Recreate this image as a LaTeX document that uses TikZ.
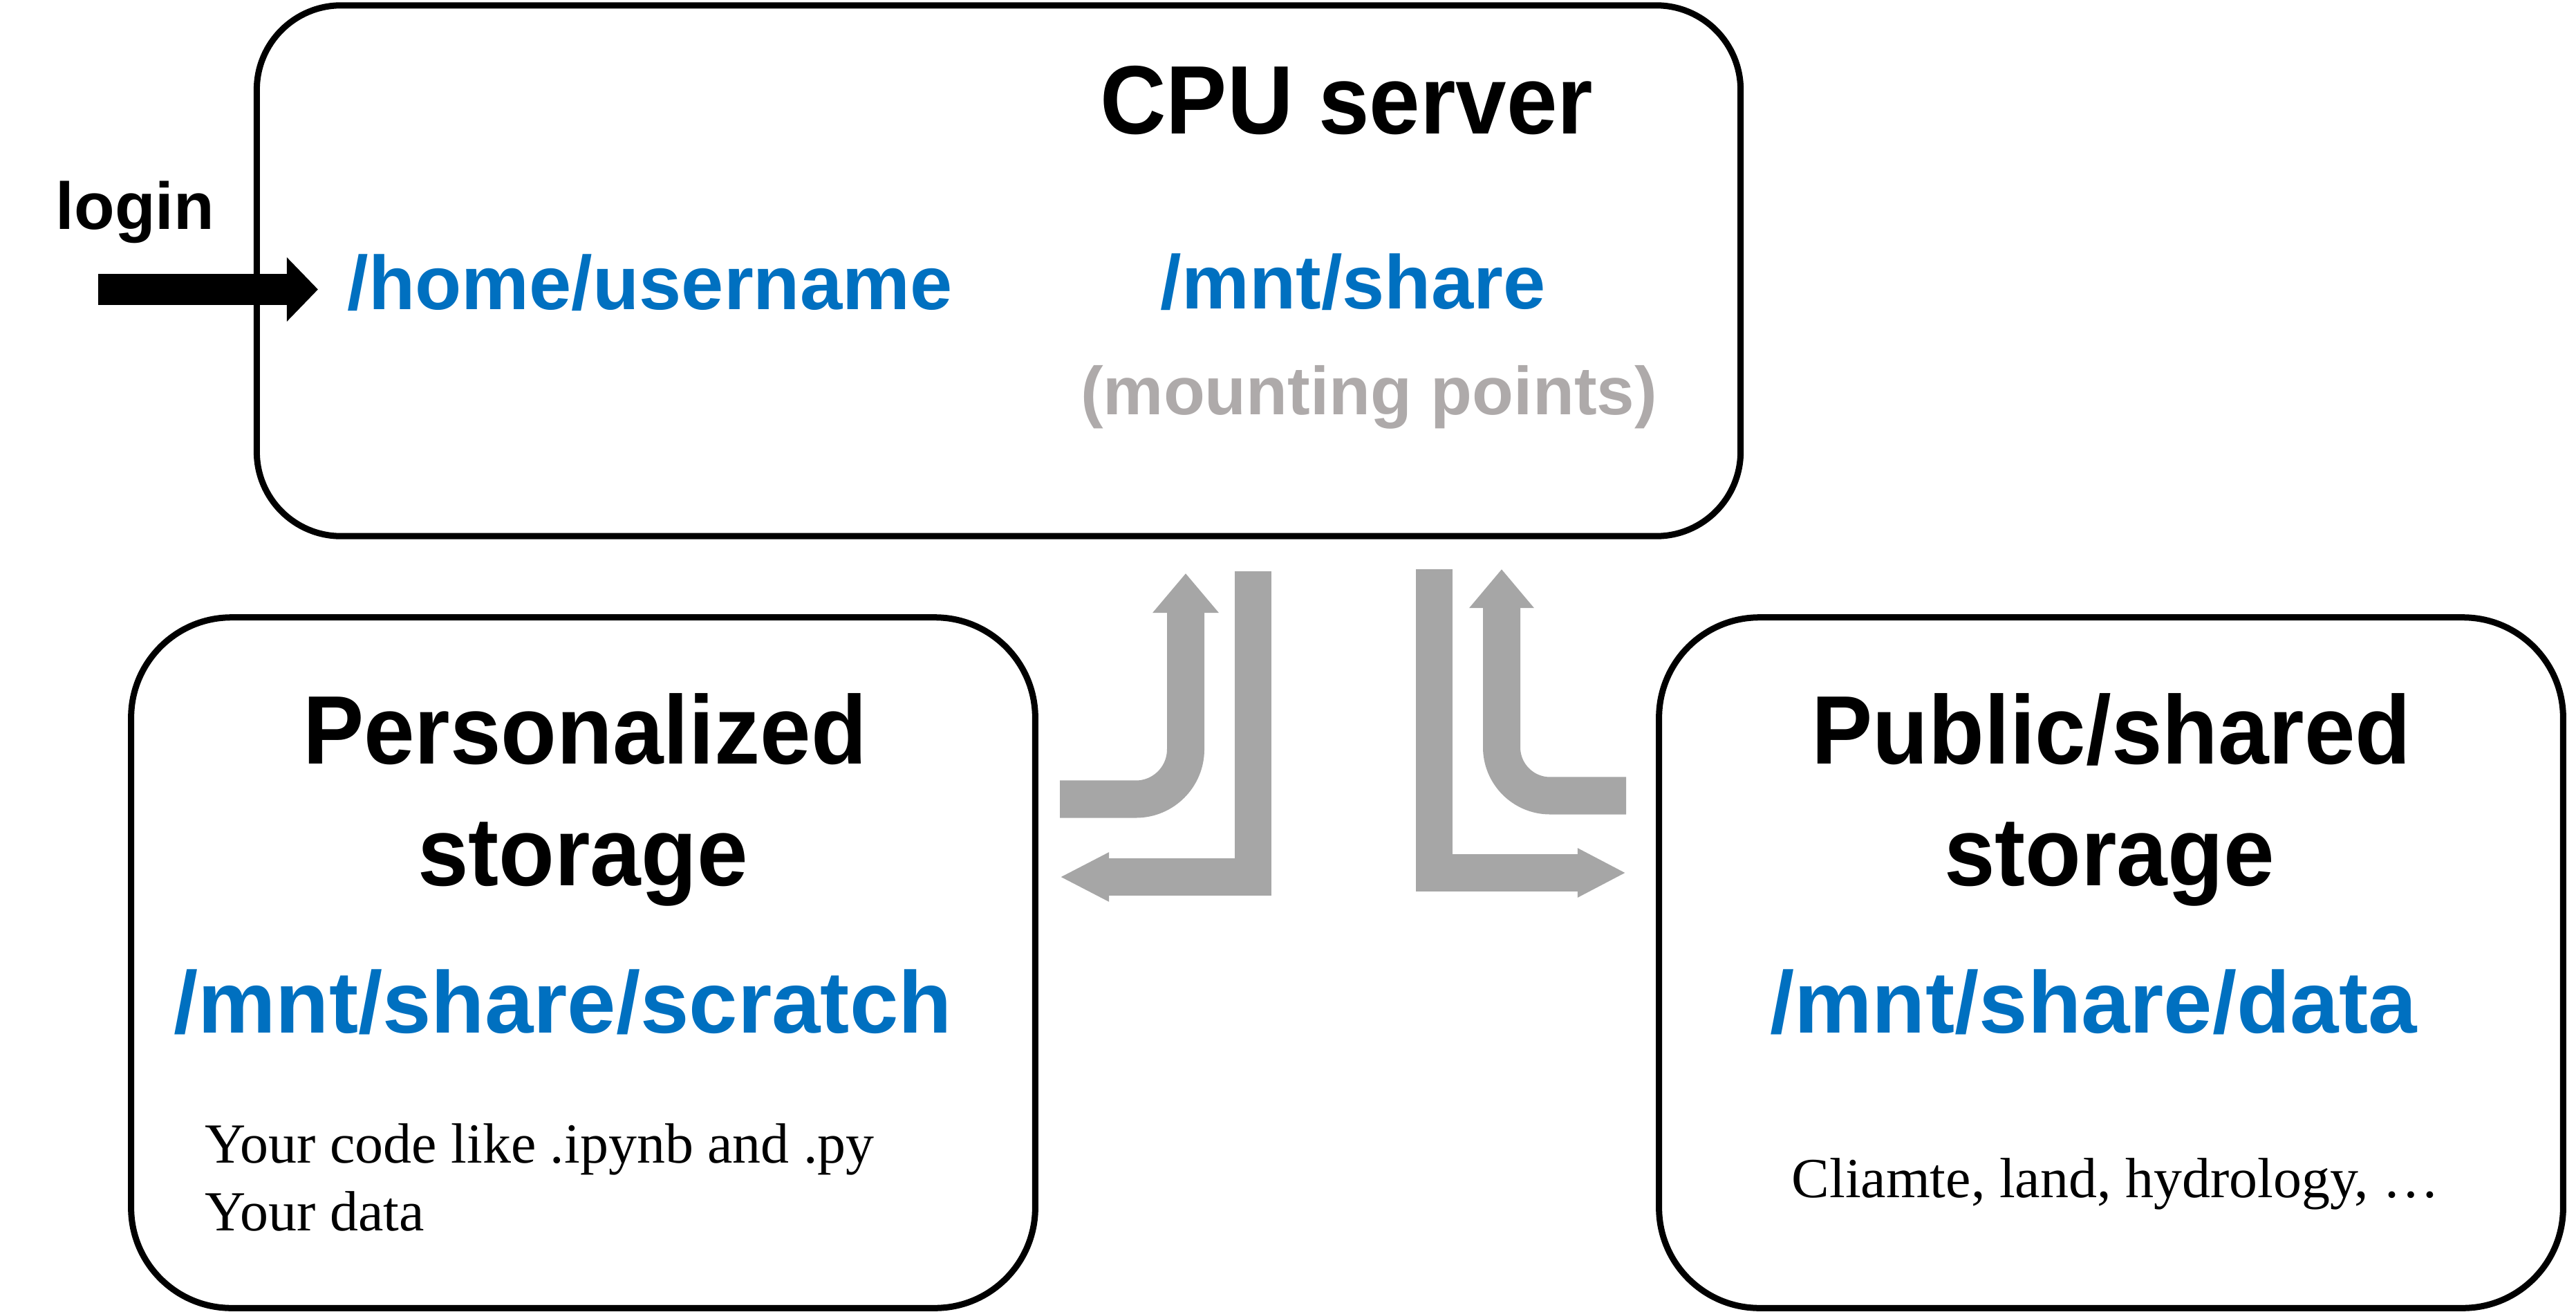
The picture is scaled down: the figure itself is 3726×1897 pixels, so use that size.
\documentclass[tikz,border=0pt]{standalone}
\usepackage{fontspec}
\setmainfont{Liberation Serif}
\newfontfamily\titlefont{Liberation Sans}[FakeStretch=0.94]
\newfontfamily\labelfont{Liberation Sans}
\usetikzlibrary{arrows.meta}
\definecolor{pathblue}{HTML}{0070C0}
\definecolor{notegray}{HTML}{AEAAAA}
\definecolor{flowgray}{HTML}{A6A6A6}
\tikzset{
	box/.style={draw=black, line width=0.09cm, inner sep=0pt},
	title/.style={anchor=base, inner sep=0pt, font=\titlefont\bfseries\fontsize{40pt}{48pt}\selectfont},
	mountpath/.style={anchor=base, inner sep=0pt, text=pathblue, font=\labelfont\bfseries\fontsize{31.3pt}{38pt}\selectfont},
	storepath/.style={anchor=base, inner sep=0pt, text=pathblue, font=\labelfont\bfseries\fontsize{36pt}{42pt}\selectfont},
	note/.style={anchor=base west, inner sep=0pt, font=\fontsize{23.3pt}{28pt}\selectfont},
	flow/.style={draw=flowgray, line width=0.54cm},
}

\begin{document}
\begin{tikzpicture}[x=0.01cm, y=-0.01cm]
		\useasboundingbox (0,0) rectangle (3726,1897);

		% the three machines
		\node[box, rounded corners=1.22cm, minimum width=21.45cm, minimum height=7.67cm] (cpu) at (1444.5,391.5) {};
		\node[box, rounded corners=1.45cm, minimum width=13.07cm, minimum height=9.98cm] (personal) at (843.5,1392) {};
		\node[box, rounded corners=1.45cm, minimum width=13.07cm, minimum height=9.98cm] (public) at (3053.5,1392) {};

		\node[title] (cputitle) at (1948,194) {CPU server};
		\node[anchor=base west, inner sep=0pt, font=\labelfont\bfseries\fontsize{27.3pt}{32pt}\selectfont] (login) at (80,331) {login};
		\node[mountpath, anchor=base west] (home) at (502,447) {/home/username};
		\node[mountpath] (mnt) at (1957,446) {/mnt/share};
		\node[anchor=base, inner sep=0pt, text=notegray, font=\labelfont\bfseries\fontsize{27.9pt}{32pt}\selectfont] (mounting) at (1980,599) {(mounting points)};

		\node[title] (perstitle) at (846,1104) {Personalized};
		\node[title] (persstorage) at (843,1280) {storage};
		\node[storepath] (scratch) at (814,1493) {/mnt/share/scratch};
		\node[note] (code) at (296,1681) {Your code like .ipynb and .py};
		\node[note] (yourdata) at (296,1779) {Your data};

		\node[title] (pubtitle) at (3054,1104) {Public/shared};
		\node[title] (pubstorage) at (3051,1280) {storage};
		\node[storepath] (data) at (3028,1493) {/mnt/share/data};
		\node[note, anchor=base] (topics) at (3060,1731) {Cliamte, land, hydrology, \dots};

		% login arrow
		\coordinate (loginstart) at (142,418.5);
		\coordinate (loginend) at (460,418.5);
		\draw[line width=0.45cm, -{Triangle[width=0.9cm,length=0.45cm]}] (loginstart) -- (loginend);

		% data flows between server and storages
		\coordinate (persin) at (1533,1155.5);
		\coordinate (persup) at (1715,829);
		\coordinate (persdown) at (1812.5,826);
		\coordinate (persout) at (1533,1268);
		\coordinate (pubdown) at (2074.5,823);
		\coordinate (pubout) at (2352,1262);
		\coordinate (pubin) at (2352,1150.5);
		\coordinate (pubup) at (2172,823);

		\draw[flow, rounded corners=0.72cm, -{Triangle[width=0.92cm,length=0.57cm]}] (persin) -| (persup);
		\draw[flow, line width=0.53cm, -{Triangle[width=0.66cm,length=0.71cm]}] (persdown) |- (persout);
		\draw[flow, line width=0.53cm, -{Triangle[width=0.66cm,length=0.7cm]}] (pubdown) |- (pubout);
		\draw[flow, rounded corners=0.7cm, -{Triangle[width=0.9cm,length=0.56cm]}] (pubin) -| (pubup);
	\end{tikzpicture}
\end{document}
